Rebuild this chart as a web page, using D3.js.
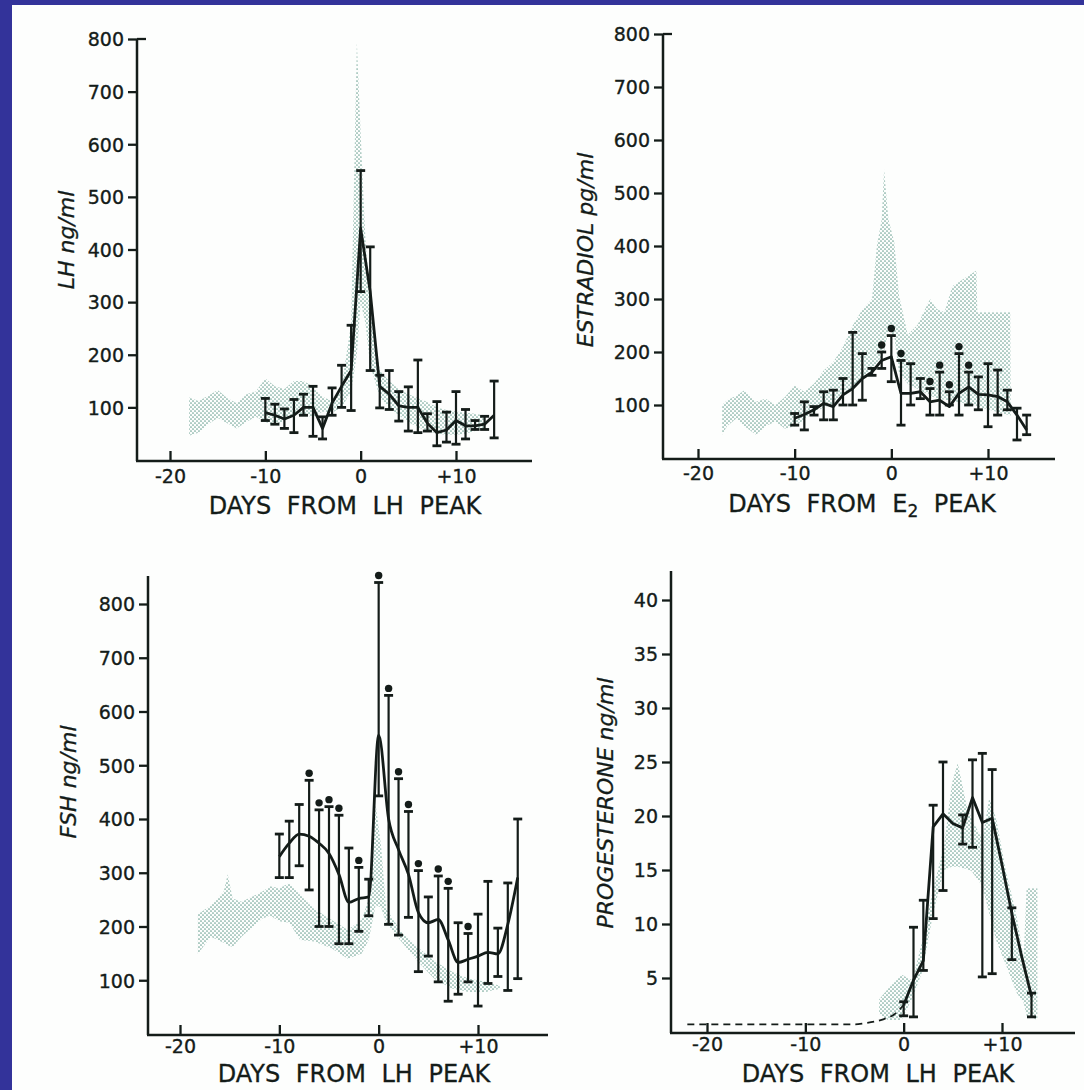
<!DOCTYPE html>
<html><head><meta charset="utf-8">
<script src="https://cdn.jsdelivr.net/npm/d3@7"></script>
<style>body{margin:0;background:#fff}svg{display:block}</style>
</head><body><svg id="c" width="1084" height="1090"></svg>
<script>
// ---------------- DATA ----------------
const xTickValues = [-20, -10, 0, 10];
const xTickLabels = ["-20", "-10", "0", "+10"];
const hormoneTicks = [100, 200, 300, 400, 500, 600, 700, 800];
const progTicks = [5, 10, 15, 20, 25, 30, 35, 40];

const seriesDays = [-10,-9,-8,-7,-6,-5,-4,-3,-2,-1,0,1,2,3,4,5,6,7,8,9,10,11,12,13,14];

// LH (ng/ml)
const lhMean = [90,85,78,85,100,100,60,108,140,170,440,320,140,125,103,100,100,70,52,57,75,65,65,68,85];
const lhLow  = [75,68,60,52,85,45,40,85,100,94,320,170,99,96,74,55,52,55,27,34,30,40,58,58,42];
const lhHigh = [117,106,97,115,125,140,82,137,180,256,550,405,161,170,130,139,190,88,111,91,130,96,75,83,150];
const lhBandDays = [-18,-17,-16,-15,-14,-13,-12,-11,-10,-9,-8,-7,-6,-5,-4,-3,-2,-1,-0.4,0,0.5,1,2,3,4,5,6,7,8,9,10,11,12,13];
const lhBandHigh = [119,112,122,133,118,108,125,130,155,140,135,150,150,140,120,112,140,260,795,620,420,300,170,150,135,125,118,110,100,95,92,90,88,85];
const lhBandLow  = [46,52,68,80,70,60,72,82,72,65,75,85,88,80,92,90,100,130,200,300,260,180,120,100,85,72,62,55,50,48,48,50,55,60];

// Estradiol (pg/ml)
const e2Mean = [75,82,91,103,97,119,131,150,162,184,191,122,122,125,106,109,97,122,134,120,119,116,106,81,53];
const e2Low  = [62,53,81,72,72,100,100,109,156,169,144,62,100,112,81,81,100,81,100,91,59,81,91,34,44];
const e2High = [84,106,97,125,128,150,237,197,169,200,231,184,178,150,131,162,125,197,162,153,178,166,128,94,81];
const e2DotDays = [-1,0,1,4,5,6,7,8];
const e2BandDays = [-17.5,-17,-16,-15.2,-14,-13,-12,-11,-10,-9,-8,-7,-6,-5,-4,-3,-2,-1.5,-1,-0.75,-0.3,0.3,0.8,1.7,2.7,4,4.7,5.5,6.3,8.8,8.9,12.3,12.35];
const e2BandHigh = [100,109,118,128,106,112,100,115,137,125,140,165,181,210,250,280,300,400,450,545,450,408,306,233,251,300,281,275,324,354,275,275,95];
const e2BandLow  = [44,60,75,60,44,60,69,55,60,72,87,95,103,115,131,150,165,180,190,200,240,230,160,140,130,118,112,110,108,98,97,80,80];

// FSH (ng/ml)
const fshMean = [330,355,372,368,355,336,297,245,252,255,556,400,343,297,226,207,213,175,133,139,145,152,149,204,291];
const fshLow  = [291,291,313,268,200,200,168,168,191,220,443,204,184,217,116,145,97,61,74,97,52,94,107,81,103];
const fshHigh = [372,396,427,472,417,423,407,346,310,288,840,630,475,414,304,255,294,271,207,187,223,284,197,281,400];
const fshDotDays = [-7,-6,-5,-4,-2,0,1,2,3,4,6,7,9];
const fshBandDays = [-18.2,-16.9,-15.6,-15.2,-14.7,-13.8,-11.7,-10.9,-10,-9,-7.9,-6.5,-4.8,-3.1,-1.7,-1,-0.3,0.25,0.76,2.15,3.9,5.6,7.4,9.1,10.8,12.2];
const fshBandHigh = [223,239,265,297,252,246,265,275,271,281,259,233,213,194,213,252,427,349,233,194,162,136,116,103,97,90];
const fshBandLow  = [149,181,170,165,162,181,215,220,210,207,175,172,160,140,150,175,240,235,207,175,136,103,84,78,78,84];

// Progesterone (ng/ml)
const progDays = [0,1,2,3,4,5,6,7,8,9,10,11,12,13];
const progMean = [2.5,4.8,6.6,19,20.2,19.3,18.9,21.7,19.4,19.8,15.5,11,7,3.3];
const progLow  = [1.5,1.4,5.7,10.5,13.1,null,17.4,17.1,5.1,5.4,null,6.7,null,1.4];
const progHigh = [2.8,9.7,12.2,21,25,null,20.1,25.2,25.8,24.3,null,11.5,null,3.6];
const progBaseDays = [-22,-5,-4,-3,-2,-1,0];
const progBaseVals = [0.7,0.7,0.8,0.95,1.2,1.6,2.5];
const progBandDays = [-2.5,-1.6,-0.2,0.9,1.9,3,4.1,4.9,5.5,6.4,6.9,8,8.7,9.4,10.4,11.5,12.2,12.5,13.6];
const progBandHigh = [3.0,4.0,5.3,4.8,8.5,13.3,17.2,23,24.9,21,19.8,17.8,21.7,19.8,14.9,10.7,6.9,13.3,13.3];
const progBandLow  = [1.7,1.1,1.1,3.2,5.6,11,15,15.3,15.3,15.1,14.9,13.5,11,8.5,6.2,3.6,2.7,1.5,1.1];

// ---------------- DRAW ----------------
const INK = "#141c19";
const FONT = "'DejaVu Sans', sans-serif";
const svg = d3.select('#c');
svg.append('rect').attr('width',1084).attr('height',1090).attr('fill','#fdfefd');
const defs = svg.append('defs');
const pat = defs.append('pattern').attr('id','stip').attr('width',4).attr('height',4).attr('patternUnits','userSpaceOnUse');
pat.append('circle').attr('cx',1).attr('cy',1).attr('r',0.85).attr('fill','#6fa395');
pat.append('circle').attr('cx',3).attr('cy',3).attr('r',0.85).attr('fill','#6fa395');

function panel(o) {
  const x = d3.scaleLinear().domain([-20, 10]).range([o.x20, o.x10]);
  const y = d3.scaleLinear().domain([0, o.yMax]).range([o.y0, o.yTop]);
  const g = svg.append('g');

  // normal-range stippled band
  const band = o.bandDays.map((d,i)=>({d, lo:o.bandLow[i], hi:o.bandHigh[i]}));
  g.append('path').datum(band)
    .attr('d', d3.area().x(p=>x(p.d)).y0(p=>y(p.lo)).y1(p=>y(p.hi)))
    .attr('fill','url(#stip)');

  // axes lines
  const xAxisY = y(0) + 1;
  g.append('line').attr('x1',o.axisX).attr('x2',o.axisX).attr('y1',o.axisTop).attr('y2',xAxisY)
    .attr('stroke',INK).attr('stroke-width',2.5);
  g.append('line').attr('x1',o.axisX-1).attr('x2',o.axisEnd).attr('y1',xAxisY).attr('y2',xAxisY)
    .attr('stroke',INK).attr('stroke-width',2.5);

  // y ticks
  const ya = d3.axisLeft(y).tickValues(o.yTicks).tickSize(9).tickPadding(4).tickFormat(d=>d);
  const yg = g.append('g').attr('transform',`translate(${o.axisX},0)`).call(ya);
  yg.select('.domain').remove();
  yg.selectAll('line').attr('stroke',INK).attr('stroke-width',2.3);
  yg.selectAll('text').attr('fill',INK).attr('font-family',FONT).attr('font-size',19).attr('dy','0.36em')
    .attr('stroke',INK).attr('stroke-width',0.35);
  if (o.topTickRight) {
    g.append('line').attr('x1',o.axisX).attr('x2',o.axisX+9).attr('y1',y(o.yMax)).attr('y2',y(o.yMax))
      .attr('stroke',INK).attr('stroke-width',2.3);
  }

  // x ticks (pointing up)
  const xa = d3.axisBottom(x).tickValues(xTickValues).tickSize(-10).tickPadding(o.xTickPad)
    .tickFormat((d,i)=>xTickLabels[i]);
  const xg = g.append('g').attr('transform',`translate(0,${xAxisY})`).call(xa);
  xg.select('.domain').remove();
  xg.selectAll('line').attr('stroke',INK).attr('stroke-width',2.3);
  xg.selectAll('text').attr('fill',INK).attr('font-family',FONT).attr('font-size',19)
    .attr('stroke',INK).attr('stroke-width',0.35);

  // x title
  const t = g.append('text').attr('x',o.titleX).attr('y',o.titleY).attr('text-anchor','middle')
    .attr('fill',INK).attr('font-family',FONT).attr('font-size',24).attr('word-spacing','8px')
    .attr('stroke',INK).attr('stroke-width',0.3);
  o.titleParts.forEach(p=>{
    const ts = t.append('tspan').text(p.t);
    if (p.sub) ts.attr('font-size',17).attr('baseline-shift','-28%');
  });

  // y label
  g.append('text').attr('transform',`translate(${o.ylabX},${o.ylabY}) rotate(-90)`)
    .attr('text-anchor','middle').attr('dominant-baseline','central')
    .attr('fill',INK).attr('font-family',FONT).attr('font-size',22).attr('font-style','italic')
    .attr('stroke',INK).attr('stroke-width',0.3)
    .text(o.ylab);

  // extra dashed baseline (progesterone)
  if (o.baseDays) {
    const bd = o.baseDays.map((d,i)=>({d, v:o.baseVals[i]}));
    g.append('path').datum(bd)
      .attr('d', d3.line().x(p=>x(p.d)).y(p=>y(p.v)).curve(d3.curveMonotoneX))
      .attr('fill','none').attr('stroke',INK).attr('stroke-width',1.8).attr('stroke-dasharray','7,5');
  }

  // error bars
  const pts = o.days.map((d,i)=>({d, m:o.mean[i], lo:o.low[i], hi:o.high[i]}));
  const eb = g.append('g').attr('stroke',INK).attr('stroke-width',2.2);
  pts.filter(p=>p.lo!=null).forEach(p=>{
    eb.append('line').attr('x1',x(p.d)).attr('x2',x(p.d)).attr('y1',y(p.lo)).attr('y2',y(p.hi));
    eb.append('line').attr('x1',x(p.d)-4.5).attr('x2',x(p.d)+4.5).attr('y1',y(p.lo)).attr('y2',y(p.lo)).attr('stroke-width',2.8);
    eb.append('line').attr('x1',x(p.d)-4.5).attr('x2',x(p.d)+4.5).attr('y1',y(p.hi)).attr('y2',y(p.hi)).attr('stroke-width',2.8);
  });

  // mean line
  g.append('path').datum(pts)
    .attr('d', d3.line().x(p=>x(p.d)).y(p=>y(p.m)).curve(o.curve || d3.curveLinear))
    .attr('fill','none').attr('stroke',INK).attr('stroke-width',2.8).attr('stroke-linejoin','round');

  // significance dots
  if (o.dotDays) {
    o.dotDays.forEach(d=>{
      const p = pts.find(q=>q.d===d);
      g.append('circle').attr('cx',x(p.d)).attr('cy',y(p.hi)-7).attr('r',3.7).attr('fill',INK);
    });
  }
}

panel({x20:170, x10:456, y0:460, yTop:39, yMax:800, axisX:137, axisTop:39, axisEnd:532,
  yTicks:hormoneTicks, topTickRight:true, xTickPad:9,
  bandDays:lhBandDays, bandLow:lhBandLow, bandHigh:lhBandHigh,
  days:seriesDays, mean:lhMean, low:lhLow, high:lhHigh,
  titleX:345, titleY:514, titleParts:[{t:"DAYS FROM LH PEAK"}],
  ylab:"LH ng/ml", ylabX:66, ylabY:240});

panel({x20:698, x10:988, y0:458, yTop:34, yMax:800, axisX:663, axisTop:34, axisEnd:1055,
  yTicks:hormoneTicks, topTickRight:true, xTickPad:8,
  bandDays:e2BandDays, bandLow:e2BandLow, bandHigh:e2BandHigh,
  days:seriesDays, mean:e2Mean, low:e2Low, high:e2High, dotDays:e2DotDays,
  titleX:862, titleY:512, titleParts:[{t:"DAYS FROM E"},{t:"2",sub:true},{t:" PEAK"}],
  ylab:"ESTRADIOL pg/ml", ylabX:585, ylabY:250});

panel({x20:180, x10:478, y0:1034, yTop:604, yMax:800, axisX:148, axisTop:576, axisEnd:548,
  yTicks:hormoneTicks, topTickRight:false, xTickPad:5,
  bandDays:fshBandDays, bandLow:fshBandLow, bandHigh:fshBandHigh,
  days:seriesDays, mean:fshMean, low:fshLow, high:fshHigh, dotDays:fshDotDays,
  curve:d3.curveMonotoneX,
  titleX:354, titleY:1082, titleParts:[{t:"DAYS FROM LH PEAK"}],
  ylab:"FSH ng/ml", ylabX:68, ylabY:782});

panel({x20:707, x10:1002, y0:1032, yTop:600, yMax:40, axisX:671, axisTop:571, axisEnd:1075,
  yTicks:progTicks, topTickRight:false, xTickPad:5,
  bandDays:progBandDays, bandLow:progBandLow, bandHigh:progBandHigh,
  days:progDays, mean:progMean, low:progLow, high:progHigh,
  baseDays:progBaseDays, baseVals:progBaseVals,
  titleX:878, titleY:1082, titleParts:[{t:"DAYS FROM LH PEAK"}],
  ylab:"PROGESTERONE ng/ml", ylabX:605, ylabY:803});

// blue frame (top and left edges)
svg.append('rect').attr('x',0).attr('y',0).attr('width',1084).attr('height',5).attr('fill','#33339a');
svg.append('rect').attr('x',0).attr('y',0).attr('width',12).attr('height',1090).attr('fill','#33339a');
</script>
</body></html>
